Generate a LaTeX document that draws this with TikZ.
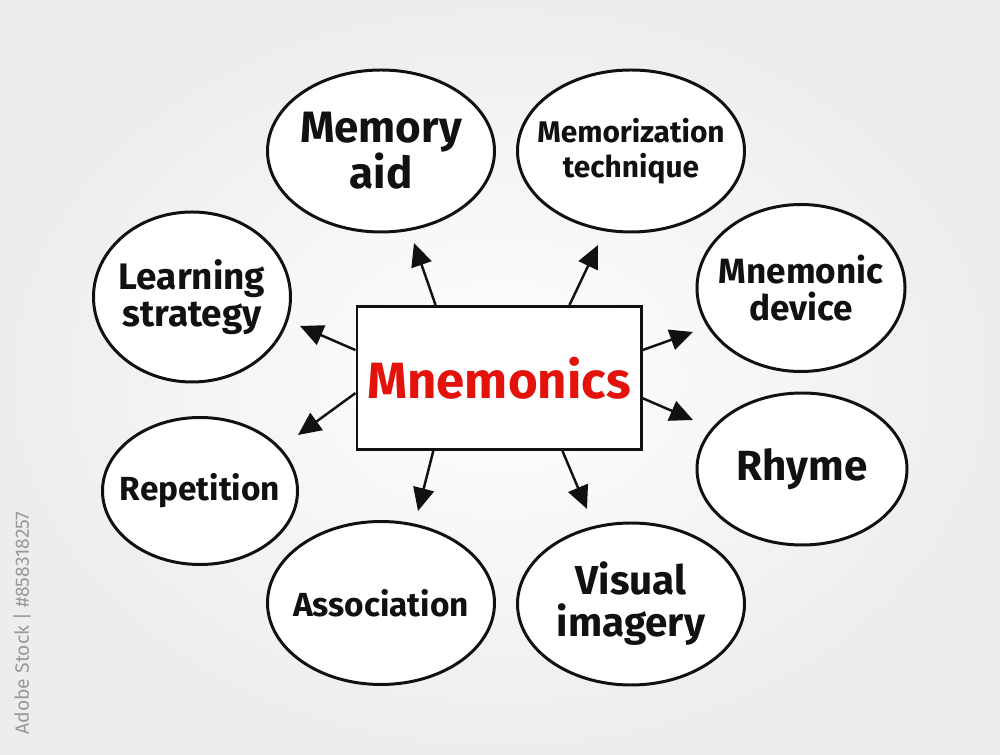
\documentclass[tikz,border=0pt]{standalone}
\usepackage{fontspec}
\setmainfont{Fira Sans}
\usepackage{tikz}
\usetikzlibrary{arrows.meta,shapes.geometric}
\definecolor{ink}{HTML}{111111}
\definecolor{marker}{HTML}{E3120B}
\definecolor{board}{HTML}{EDEDED}

\begin{document}
\begin{tikzpicture}[x=0.2mm,y=-0.2mm,
bub/.style 2 args={draw=ink,ellipse,line width=1.7pt,fill=white,inner sep=0pt,minimum width=#1,minimum height=#2},
lab/.style 2 args={align=center,text=ink,font=\bfseries\fontsize{#1}{#2}\selectfont},
hub/.style={draw=ink,rectangle,line width=1.7pt,fill=white,minimum width=56.8mm,minimum height=28.6mm,text=marker,font=\bfseries\fontsize{29}{31}\selectfont},
arrm/.style={line width=1.4pt,color=ink,-{Triangle[length=4.6mm,width=4.2mm]}}
]
\useasboundingbox (0,0) rectangle (1000,755);
\shade[inner color=white,outer color=board] (0,0) rectangle (1000,755);
\node[rotate=90,text=gray!80,font=\fontsize{11}{11}\selectfont] (stockid) at (22,623) {Adobe Stock | \#858318257};

\node[hub] (mnem) at (499,378) {Mnemonics};

\node[bub={45.4mm}{32.4mm},label={[lab={25}{26}]center:Memory\\aid}] (memaid) at (381,151) {};
\node[bub={45.4mm}{32.4mm},label={[lab={17}{20}]center:Memorization\\technique}] (memtech) at (631,151) {};
\node[bub={39.4mm}{34mm},label={[lab={21}{21}]center:Learning\\strategy}] (learn) at (192,297) {};
\node[bub={41.6mm}{33.4mm},label={[lab={20}{21}]center:Mnemonic\\device}] (device) at (801,288) {};
\node[bub={39mm}{29.4mm},label={[lab={19}{21}]center:Repetition}] (repet) at (200,491) {};
\node[bub={42mm}{30.4mm},label={[lab={24}{26}]center:Rhyme}] (rhyme) at (802,469) {};
\node[bub={45.4mm}{32.6mm},label={[lab={19}{21}]center:Association}] (assoc) at (381,603) {};
\node[bub={45.4mm}{32.4mm},label={[lab={23}{24}]center:Visual\\imagery}] (visual) at (631,604) {};

\coordinate (t1) at (414,243);
\coordinate (t2) at (598,245);
\coordinate (t3) at (300,326);
\coordinate (t4) at (298,435);
\coordinate (t5) at (418,511);
\coordinate (t6) at (587,509);
\coordinate (t7) at (693,332);
\coordinate (t8) at (693,420);

\draw[arrm] (mnem.131)--(t1);
\draw[arrm] (mnem.46)--(t2);
\draw[arrm] (mnem.169)--(t3);
\draw[arrm] (mnem.186)--(t4);
\draw[arrm] (mnem.228)--(t5);
\draw[arrm] (mnem.311)--(t6);
\draw[arrm] (mnem.11)--(t7);
\draw[arrm] (mnem.352)--(t8);
\end{tikzpicture}
\end{document}
